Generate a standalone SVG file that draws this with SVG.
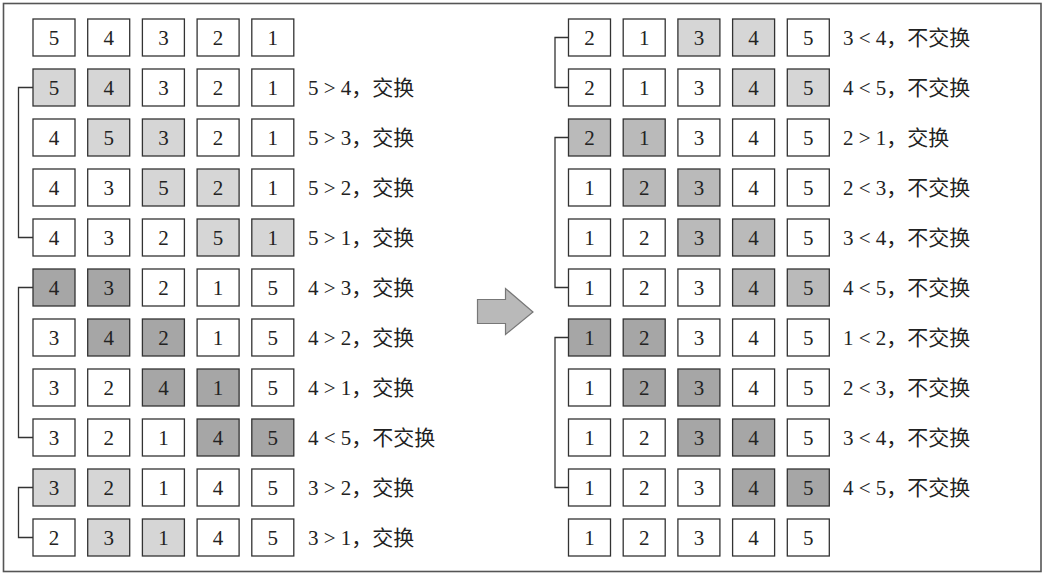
<svg xmlns="http://www.w3.org/2000/svg" width="1045" height="577" viewBox="0 0 1045 577">
<style>
.bg{fill:#fff}
.frame{fill:none;stroke:#555;stroke-width:1.6}
rect.c{stroke:#333;stroke-width:1.3}
.w{fill:#fff}.l{fill:#d6d6d6}.m{fill:#bababa}.d{fill:#a6a6a6}
text{font-family:"Liberation Serif","Noto Sans CJK SC",serif;font-size:21px;fill:#222}
.n{text-anchor:middle}
.br{fill:none;stroke:#333;stroke-width:1.3}
.arrow{fill:#b9b9b9;stroke:#777;stroke-width:1.2}
</style>
<rect class="bg" x="0" y="0" width="1045" height="577"/>
<rect class="frame" x="3.5" y="3.5" width="1037.5" height="568"/>

<g id="connectors">
<path class="br" d="M33 87.5H18.5V237.5H33"/>
<path class="br" d="M33 287.5H18.5V437.5H33"/>
<path class="br" d="M33 487.5H18.5V537.5H33"/>
<path class="br" d="M568.5 37.5H555V87.5H568.5"/>
<path class="br" d="M568.5 137.5H555V287.5H568.5"/>
<path class="br" d="M568.5 337.5H555V487.5H568.5"/>
</g>

<g id="arrow"><polygon class="arrow" points="477.5,299.5 505.5,299.5 505.5,288.5 533,312 505.5,334.5 505.5,323.5 477.5,323.5"/></g>

<!-- LEFT -->
<g id="L1">
<rect class="c w" x="33" y="19" width="42" height="37"/><text class="n" x="54" y="45">5</text>
<rect class="c w" x="87.7" y="19" width="42" height="37"/><text class="n" x="108.7" y="45">4</text>
<rect class="c w" x="142.4" y="19" width="42" height="37"/><text class="n" x="163.4" y="45">3</text>
<rect class="c w" x="197.1" y="19" width="42" height="37"/><text class="n" x="218.1" y="45">2</text>
<rect class="c w" x="251.8" y="19" width="42" height="37"/><text class="n" x="272.8" y="45">1</text>
</g>
<g id="L2">
<rect class="c l" x="33" y="69" width="42" height="37"/><text class="n" x="54" y="95">5</text>
<rect class="c l" x="87.7" y="69" width="42" height="37"/><text class="n" x="108.7" y="95">4</text>
<rect class="c w" x="142.4" y="69" width="42" height="37"/><text class="n" x="163.4" y="95">3</text>
<rect class="c w" x="197.1" y="69" width="42" height="37"/><text class="n" x="218.1" y="95">2</text>
<rect class="c w" x="251.8" y="69" width="42" height="37"/><text class="n" x="272.8" y="95">1</text>
<text x="308" y="95">5 &gt; 4，交换</text>
</g>
<g id="L3">
<rect class="c w" x="33" y="119" width="42" height="37"/><text class="n" x="54" y="145">4</text>
<rect class="c l" x="87.7" y="119" width="42" height="37"/><text class="n" x="108.7" y="145">5</text>
<rect class="c l" x="142.4" y="119" width="42" height="37"/><text class="n" x="163.4" y="145">3</text>
<rect class="c w" x="197.1" y="119" width="42" height="37"/><text class="n" x="218.1" y="145">2</text>
<rect class="c w" x="251.8" y="119" width="42" height="37"/><text class="n" x="272.8" y="145">1</text>
<text x="308" y="145">5 &gt; 3，交换</text>
</g>
<g id="L4">
<rect class="c w" x="33" y="169" width="42" height="37"/><text class="n" x="54" y="195">4</text>
<rect class="c w" x="87.7" y="169" width="42" height="37"/><text class="n" x="108.7" y="195">3</text>
<rect class="c l" x="142.4" y="169" width="42" height="37"/><text class="n" x="163.4" y="195">5</text>
<rect class="c l" x="197.1" y="169" width="42" height="37"/><text class="n" x="218.1" y="195">2</text>
<rect class="c w" x="251.8" y="169" width="42" height="37"/><text class="n" x="272.8" y="195">1</text>
<text x="308" y="195">5 &gt; 2，交换</text>
</g>
<g id="L5">
<rect class="c w" x="33" y="219" width="42" height="37"/><text class="n" x="54" y="245">4</text>
<rect class="c w" x="87.7" y="219" width="42" height="37"/><text class="n" x="108.7" y="245">3</text>
<rect class="c w" x="142.4" y="219" width="42" height="37"/><text class="n" x="163.4" y="245">2</text>
<rect class="c l" x="197.1" y="219" width="42" height="37"/><text class="n" x="218.1" y="245">5</text>
<rect class="c l" x="251.8" y="219" width="42" height="37"/><text class="n" x="272.8" y="245">1</text>
<text x="308" y="245">5 &gt; 1，交换</text>
</g>
<g id="L6">
<rect class="c d" x="33" y="269" width="42" height="37"/><text class="n" x="54" y="295">4</text>
<rect class="c d" x="87.7" y="269" width="42" height="37"/><text class="n" x="108.7" y="295">3</text>
<rect class="c w" x="142.4" y="269" width="42" height="37"/><text class="n" x="163.4" y="295">2</text>
<rect class="c w" x="197.1" y="269" width="42" height="37"/><text class="n" x="218.1" y="295">1</text>
<rect class="c w" x="251.8" y="269" width="42" height="37"/><text class="n" x="272.8" y="295">5</text>
<text x="308" y="295">4 &gt; 3，交换</text>
</g>
<g id="L7">
<rect class="c w" x="33" y="319" width="42" height="37"/><text class="n" x="54" y="345">3</text>
<rect class="c d" x="87.7" y="319" width="42" height="37"/><text class="n" x="108.7" y="345">4</text>
<rect class="c d" x="142.4" y="319" width="42" height="37"/><text class="n" x="163.4" y="345">2</text>
<rect class="c w" x="197.1" y="319" width="42" height="37"/><text class="n" x="218.1" y="345">1</text>
<rect class="c w" x="251.8" y="319" width="42" height="37"/><text class="n" x="272.8" y="345">5</text>
<text x="308" y="345">4 &gt; 2，交换</text>
</g>
<g id="L8">
<rect class="c w" x="33" y="369" width="42" height="37"/><text class="n" x="54" y="395">3</text>
<rect class="c w" x="87.7" y="369" width="42" height="37"/><text class="n" x="108.7" y="395">2</text>
<rect class="c d" x="142.4" y="369" width="42" height="37"/><text class="n" x="163.4" y="395">4</text>
<rect class="c d" x="197.1" y="369" width="42" height="37"/><text class="n" x="218.1" y="395">1</text>
<rect class="c w" x="251.8" y="369" width="42" height="37"/><text class="n" x="272.8" y="395">5</text>
<text x="308" y="395">4 &gt; 1，交换</text>
</g>
<g id="L9">
<rect class="c w" x="33" y="419" width="42" height="37"/><text class="n" x="54" y="445">3</text>
<rect class="c w" x="87.7" y="419" width="42" height="37"/><text class="n" x="108.7" y="445">2</text>
<rect class="c w" x="142.4" y="419" width="42" height="37"/><text class="n" x="163.4" y="445">1</text>
<rect class="c d" x="197.1" y="419" width="42" height="37"/><text class="n" x="218.1" y="445">4</text>
<rect class="c d" x="251.8" y="419" width="42" height="37"/><text class="n" x="272.8" y="445">5</text>
<text x="308" y="445">4 &lt; 5，不交换</text>
</g>
<g id="L10">
<rect class="c l" x="33" y="469" width="42" height="37"/><text class="n" x="54" y="495">3</text>
<rect class="c l" x="87.7" y="469" width="42" height="37"/><text class="n" x="108.7" y="495">2</text>
<rect class="c w" x="142.4" y="469" width="42" height="37"/><text class="n" x="163.4" y="495">1</text>
<rect class="c w" x="197.1" y="469" width="42" height="37"/><text class="n" x="218.1" y="495">4</text>
<rect class="c w" x="251.8" y="469" width="42" height="37"/><text class="n" x="272.8" y="495">5</text>
<text x="308" y="495">3 &gt; 2，交换</text>
</g>
<g id="L11">
<rect class="c w" x="33" y="519" width="42" height="37"/><text class="n" x="54" y="545">2</text>
<rect class="c l" x="87.7" y="519" width="42" height="37"/><text class="n" x="108.7" y="545">3</text>
<rect class="c l" x="142.4" y="519" width="42" height="37"/><text class="n" x="163.4" y="545">1</text>
<rect class="c w" x="197.1" y="519" width="42" height="37"/><text class="n" x="218.1" y="545">4</text>
<rect class="c w" x="251.8" y="519" width="42" height="37"/><text class="n" x="272.8" y="545">5</text>
<text x="308" y="545">3 &gt; 1，交换</text>
</g>

<!-- RIGHT -->
<g id="R1">
<rect class="c w" x="568.5" y="19" width="42" height="37"/><text class="n" x="589.5" y="45">2</text>
<rect class="c w" x="623.2" y="19" width="42" height="37"/><text class="n" x="644.2" y="45">1</text>
<rect class="c l" x="677.9" y="19" width="42" height="37"/><text class="n" x="698.9" y="45">3</text>
<rect class="c l" x="732.6" y="19" width="42" height="37"/><text class="n" x="753.6" y="45">4</text>
<rect class="c w" x="787.3" y="19" width="42" height="37"/><text class="n" x="808.3" y="45">5</text>
<text x="843" y="45">3 &lt; 4，不交换</text>
</g>
<g id="R2">
<rect class="c w" x="568.5" y="69" width="42" height="37"/><text class="n" x="589.5" y="95">2</text>
<rect class="c w" x="623.2" y="69" width="42" height="37"/><text class="n" x="644.2" y="95">1</text>
<rect class="c w" x="677.9" y="69" width="42" height="37"/><text class="n" x="698.9" y="95">3</text>
<rect class="c l" x="732.6" y="69" width="42" height="37"/><text class="n" x="753.6" y="95">4</text>
<rect class="c l" x="787.3" y="69" width="42" height="37"/><text class="n" x="808.3" y="95">5</text>
<text x="843" y="95">4 &lt; 5，不交换</text>
</g>
<g id="R3">
<rect class="c m" x="568.5" y="119" width="42" height="37"/><text class="n" x="589.5" y="145">2</text>
<rect class="c m" x="623.2" y="119" width="42" height="37"/><text class="n" x="644.2" y="145">1</text>
<rect class="c w" x="677.9" y="119" width="42" height="37"/><text class="n" x="698.9" y="145">3</text>
<rect class="c w" x="732.6" y="119" width="42" height="37"/><text class="n" x="753.6" y="145">4</text>
<rect class="c w" x="787.3" y="119" width="42" height="37"/><text class="n" x="808.3" y="145">5</text>
<text x="843" y="145">2 &gt; 1，交换</text>
</g>
<g id="R4">
<rect class="c w" x="568.5" y="169" width="42" height="37"/><text class="n" x="589.5" y="195">1</text>
<rect class="c m" x="623.2" y="169" width="42" height="37"/><text class="n" x="644.2" y="195">2</text>
<rect class="c m" x="677.9" y="169" width="42" height="37"/><text class="n" x="698.9" y="195">3</text>
<rect class="c w" x="732.6" y="169" width="42" height="37"/><text class="n" x="753.6" y="195">4</text>
<rect class="c w" x="787.3" y="169" width="42" height="37"/><text class="n" x="808.3" y="195">5</text>
<text x="843" y="195">2 &lt; 3，不交换</text>
</g>
<g id="R5">
<rect class="c w" x="568.5" y="219" width="42" height="37"/><text class="n" x="589.5" y="245">1</text>
<rect class="c w" x="623.2" y="219" width="42" height="37"/><text class="n" x="644.2" y="245">2</text>
<rect class="c m" x="677.9" y="219" width="42" height="37"/><text class="n" x="698.9" y="245">3</text>
<rect class="c m" x="732.6" y="219" width="42" height="37"/><text class="n" x="753.6" y="245">4</text>
<rect class="c w" x="787.3" y="219" width="42" height="37"/><text class="n" x="808.3" y="245">5</text>
<text x="843" y="245">3 &lt; 4，不交换</text>
</g>
<g id="R6">
<rect class="c w" x="568.5" y="269" width="42" height="37"/><text class="n" x="589.5" y="295">1</text>
<rect class="c w" x="623.2" y="269" width="42" height="37"/><text class="n" x="644.2" y="295">2</text>
<rect class="c w" x="677.9" y="269" width="42" height="37"/><text class="n" x="698.9" y="295">3</text>
<rect class="c m" x="732.6" y="269" width="42" height="37"/><text class="n" x="753.6" y="295">4</text>
<rect class="c m" x="787.3" y="269" width="42" height="37"/><text class="n" x="808.3" y="295">5</text>
<text x="843" y="295">4 &lt; 5，不交换</text>
</g>
<g id="R7">
<rect class="c d" x="568.5" y="319" width="42" height="37"/><text class="n" x="589.5" y="345">1</text>
<rect class="c d" x="623.2" y="319" width="42" height="37"/><text class="n" x="644.2" y="345">2</text>
<rect class="c w" x="677.9" y="319" width="42" height="37"/><text class="n" x="698.9" y="345">3</text>
<rect class="c w" x="732.6" y="319" width="42" height="37"/><text class="n" x="753.6" y="345">4</text>
<rect class="c w" x="787.3" y="319" width="42" height="37"/><text class="n" x="808.3" y="345">5</text>
<text x="843" y="345">1 &lt; 2，不交换</text>
</g>
<g id="R8">
<rect class="c w" x="568.5" y="369" width="42" height="37"/><text class="n" x="589.5" y="395">1</text>
<rect class="c d" x="623.2" y="369" width="42" height="37"/><text class="n" x="644.2" y="395">2</text>
<rect class="c d" x="677.9" y="369" width="42" height="37"/><text class="n" x="698.9" y="395">3</text>
<rect class="c w" x="732.6" y="369" width="42" height="37"/><text class="n" x="753.6" y="395">4</text>
<rect class="c w" x="787.3" y="369" width="42" height="37"/><text class="n" x="808.3" y="395">5</text>
<text x="843" y="395">2 &lt; 3，不交换</text>
</g>
<g id="R9">
<rect class="c w" x="568.5" y="419" width="42" height="37"/><text class="n" x="589.5" y="445">1</text>
<rect class="c w" x="623.2" y="419" width="42" height="37"/><text class="n" x="644.2" y="445">2</text>
<rect class="c d" x="677.9" y="419" width="42" height="37"/><text class="n" x="698.9" y="445">3</text>
<rect class="c d" x="732.6" y="419" width="42" height="37"/><text class="n" x="753.6" y="445">4</text>
<rect class="c w" x="787.3" y="419" width="42" height="37"/><text class="n" x="808.3" y="445">5</text>
<text x="843" y="445">3 &lt; 4，不交换</text>
</g>
<g id="R10">
<rect class="c w" x="568.5" y="469" width="42" height="37"/><text class="n" x="589.5" y="495">1</text>
<rect class="c w" x="623.2" y="469" width="42" height="37"/><text class="n" x="644.2" y="495">2</text>
<rect class="c w" x="677.9" y="469" width="42" height="37"/><text class="n" x="698.9" y="495">3</text>
<rect class="c d" x="732.6" y="469" width="42" height="37"/><text class="n" x="753.6" y="495">4</text>
<rect class="c d" x="787.3" y="469" width="42" height="37"/><text class="n" x="808.3" y="495">5</text>
<text x="843" y="495">4 &lt; 5，不交换</text>
</g>
<g id="R11">
<rect class="c w" x="568.5" y="519" width="42" height="37"/><text class="n" x="589.5" y="545">1</text>
<rect class="c w" x="623.2" y="519" width="42" height="37"/><text class="n" x="644.2" y="545">2</text>
<rect class="c w" x="677.9" y="519" width="42" height="37"/><text class="n" x="698.9" y="545">3</text>
<rect class="c w" x="732.6" y="519" width="42" height="37"/><text class="n" x="753.6" y="545">4</text>
<rect class="c w" x="787.3" y="519" width="42" height="37"/><text class="n" x="808.3" y="545">5</text>
</g>
</svg>
